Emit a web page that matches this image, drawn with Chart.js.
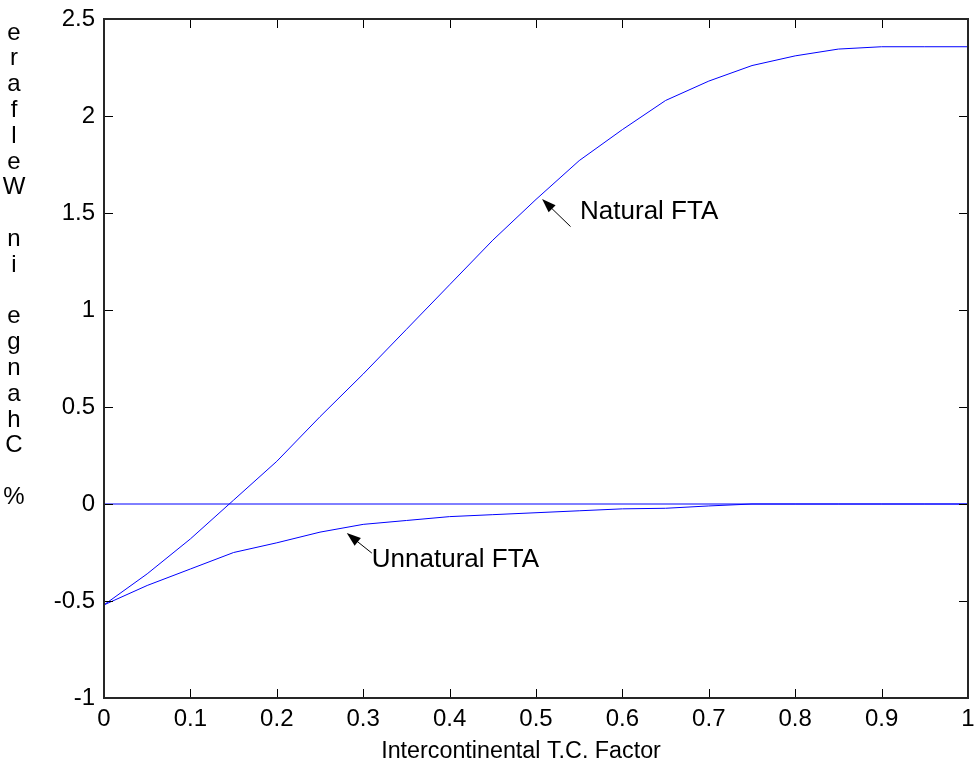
<!DOCTYPE html>
<html>
<head>
<meta charset="utf-8">
<title>Welfare vs Intercontinental T.C. Factor</title>
<script src="https://cdn.jsdelivr.net/npm/chart.js@4.4.1/dist/chart.umd.min.js"></script>
<style>
  html, body { margin: 0; padding: 0; background: #fff; }
  #wrap { width: 977px; height: 771px; }
</style>
</head>
<body>
<div id="wrap"><canvas id="myChart" width="977" height="771"></canvas></div>
<script>
// data
var tcFactor = [0, 0.05, 0.1, 0.15, 0.2, 0.25, 0.3, 0.35, 0.4, 0.45, 0.5,
                0.55, 0.6, 0.65, 0.7, 0.75, 0.8, 0.85, 0.9, 0.95, 1];
var naturalFTA = [-0.52, -0.36, -0.18, 0.02, 0.22, 0.45, 0.67, 0.90, 1.13, 1.36, 1.57,
                  1.77, 1.93, 2.08, 2.18, 2.26, 2.31, 2.345, 2.357, 2.357, 2.357];
var unnaturalFTA = [-0.52, -0.42, -0.335, -0.25, -0.2, -0.145, -0.105, -0.085, -0.065, -0.055, -0.045,
                    -0.035, -0.025, -0.022, -0.01, 0, 0, 0, 0, 0, 0];
var zeroLineX = [0, 1];
var zeroLineY = [0, 0];
var xTicks = [0, 0.1, 0.2, 0.3, 0.4, 0.5, 0.6, 0.7, 0.8, 0.9, 1];
var yTicks = [-1, -0.5, 0, 0.5, 1, 1.5, 2, 2.5];
var xTitle = 'Intercontinental T.C. Factor';
var yTitle = '% Change in Welfare';

var FONT = '"Liberation Sans", Arial, sans-serif';
var BLUE = '#0000ff';

function pairs(xs, ys) {
    return xs.map(function (x, i) { return { x: x, y: ys[i] }; });
}

// box, inward ticks, axis titles, arrows
var matlabFrame = {
    id: 'matlabFrame',
    afterDraw: function (chart) {
        var ctx = chart.ctx;
        var a = chart.chartArea;
        var xs = chart.scales.x, ys = chart.scales.y;
        var tl = 9;
        ctx.save();

        ctx.strokeStyle = '#000';
        ctx.lineWidth = 1;
        ctx.beginPath();
        xTicks.forEach(function (v) {
            var px = Math.round(xs.getPixelForValue(v)) + 0.5;
            ctx.moveTo(px, a.bottom); ctx.lineTo(px, a.bottom - tl);
            ctx.moveTo(px, a.top); ctx.lineTo(px, a.top + tl);
        });
        yTicks.forEach(function (v) {
            var py = Math.round(ys.getPixelForValue(v)) + 0.5;
            ctx.moveTo(a.left, py); ctx.lineTo(a.left + tl, py);
            ctx.moveTo(a.right, py); ctx.lineTo(a.right - tl, py);
        });
        ctx.stroke();

        ctx.strokeStyle = '#262626';
        ctx.lineWidth = 2;
        ctx.strokeRect(a.left, a.top, a.right - a.left, a.bottom - a.top);

        // x title (sits a bit left of the axes centre in the original)
        ctx.fillStyle = '#000';
        ctx.font = '23.3px ' + FONT;
        ctx.textAlign = 'center';
        ctx.textBaseline = 'middle';
        ctx.fillText(xTitle, 521, 752);

        // y label, letters upright and in reverse order
        ctx.font = '24px ' + FONT;
        var chars = yTitle.split('').reverse();
        chars.forEach(function (c, i) {
            ctx.fillText(c, 14, 33 + i * 25.8);
        });

        function arrow(x0, y0, x1, y1) {
            var p0 = [xs.getPixelForValue(x0), ys.getPixelForValue(y0)];
            var p1 = [xs.getPixelForValue(x1), ys.getPixelForValue(y1)];
            var ang = Math.atan2(p1[1] - p0[1], p1[0] - p0[0]);
            var hl = 14, hw = 5;
            ctx.strokeStyle = '#000';
            ctx.lineWidth = 1;
            ctx.beginPath();
            ctx.moveTo(p0[0], p0[1]);
            ctx.lineTo(p1[0] - Math.cos(ang) * hl * 0.8, p1[1] - Math.sin(ang) * hl * 0.8);
            ctx.stroke();
            ctx.fillStyle = '#000';
            ctx.beginPath();
            ctx.moveTo(p1[0], p1[1]);
            ctx.lineTo(p1[0] - Math.cos(ang) * hl - Math.sin(ang) * hw, p1[1] - Math.sin(ang) * hl + Math.cos(ang) * hw);
            ctx.lineTo(p1[0] - Math.cos(ang) * hl + Math.sin(ang) * hw, p1[1] - Math.sin(ang) * hl - Math.cos(ang) * hw);
            ctx.closePath();
            ctx.fill();
        }
        function label(text, x, y) {
            ctx.fillStyle = '#000';
            ctx.font = '26px ' + FONT;
            ctx.textAlign = 'left';
            ctx.textBaseline = 'middle';
            ctx.fillText(text, xs.getPixelForValue(x), ys.getPixelForValue(y));
        }

        arrow(0.54, 1.43, 0.507, 1.572);
        label('Natural FTA', 0.551, 1.505);
        arrow(0.31, -0.253, 0.281, -0.15);
        label('Unnatural FTA', 0.31, -0.29);

        ctx.restore();
    }
};

var ctx = document.getElementById('myChart').getContext('2d');
var myChart = new Chart(ctx, {
    type: 'line',
    data: {
        datasets: [{
            label: 'Natural FTA',
            data: pairs(tcFactor, naturalFTA),
            borderColor: BLUE,
            borderWidth: 1,
            pointRadius: 0,
            tension: 0,
            fill: false
        }, {
            label: 'Unnatural FTA',
            data: pairs(tcFactor, unnaturalFTA),
            borderColor: BLUE,
            borderWidth: 1,
            pointRadius: 0,
            tension: 0,
            fill: false
        }, {
            label: 'zero',
            data: pairs(zeroLineX, zeroLineY),
            borderColor: BLUE,
            borderWidth: 1,
            pointRadius: 0,
            tension: 0,
            fill: false
        }]
    },
    options: {
        responsive: false,
        animation: false,
        devicePixelRatio: 1,
        layout: { padding: { top: 19, right: 9, left: 0, bottom: 0 } },
        plugins: {
            legend: { display: false },
            tooltip: { enabled: false }
        },
        scales: {
            x: {
                type: 'linear',
                min: 0,
                max: 1,
                afterFit: function (s) {
                    s.height = 73;
                    s.paddingLeft = 0;
                    s.paddingRight = 0;
                },
                afterBuildTicks: function (s) {
                    s.ticks = xTicks.map(function (v) { return { value: v }; });
                },
                grid: { display: false, drawTicks: false },
                border: { display: false },
                ticks: {
                    padding: 7,
                    color: '#000',
                    font: { family: FONT, size: 24 },
                    maxRotation: 0,
                    callback: function (v) { return String(Math.round(v * 10) / 10); }
                }
            },
            y: {
                type: 'linear',
                min: -1,
                max: 2.5,
                afterFit: function (s) {
                    s.width = 104;
                    s.paddingTop = 0;
                    s.paddingBottom = 0;
                },
                afterBuildTicks: function (s) {
                    s.ticks = yTicks.map(function (v) { return { value: v }; });
                },
                grid: { display: false, drawTicks: false },
                border: { display: false },
                ticks: {
                    padding: 9,
                    color: '#000',
                    font: { family: FONT, size: 24 },
                    callback: function (v) { return String(Math.round(v * 10) / 10); }
                }
            }
        }
    },
    plugins: [matlabFrame]
});
</script>
</body>
</html>
